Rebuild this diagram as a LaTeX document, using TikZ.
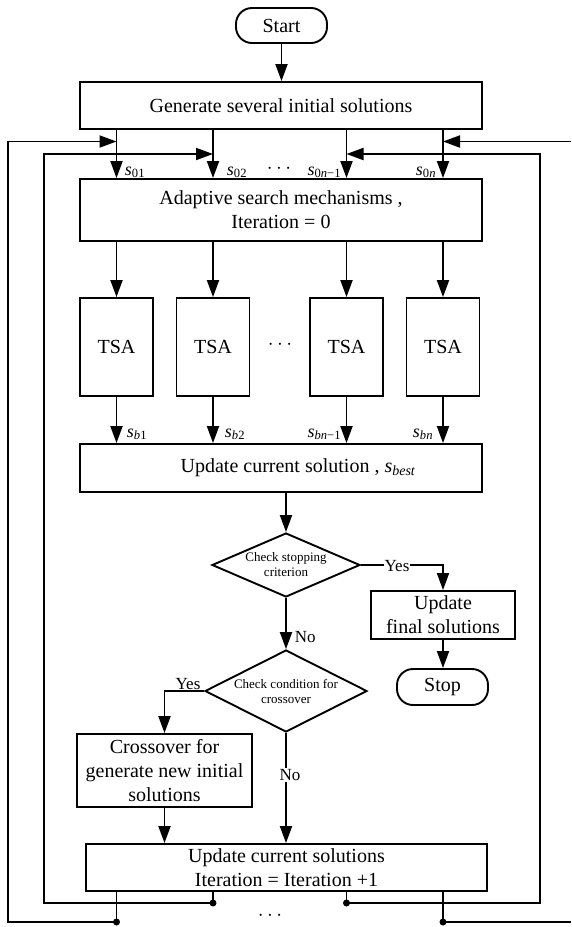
\documentclass[tikz,border=0pt]{standalone}
\usepackage{fontspec}
\setmainfont{Liberation Serif}
\usetikzlibrary{arrows.meta,shapes.geometric}
\newcommand\mainsz{\fontsize{20}{24}\selectfont}
\newcommand\lblsz{\fontsize{18}{20}\selectfont}
\newcommand\dotsz{\fontsize{22}{24}\selectfont}
\newcommand\yesnosz{\fontsize{17}{19}\selectfont}
\newcommand\dsz{\fontsize{13}{15}\selectfont}
\begin{document}
\begin{tikzpicture}[x=1pt,y=-1pt,line width=1.9pt,
  box/.style={draw,rectangle,inner sep=2pt,align=center,font=\mainsz},
  term/.style={draw,rectangle,rounded corners=16pt,inner sep=2pt,font=\mainsz},
  decision/.style={draw,diamond,inner sep=0pt},
  dtext/.style={align=center,font=\dsz,inner sep=0pt},
  lbl/.style={font=\lblsz,inner sep=0pt},
  ellip/.style={font=\dotsz,inner sep=0pt},
  yn/.style={font=\yesnosz,inner sep=1pt},
  arr/.style={-{Triangle[length=17pt,width=12pt]}},
  dot/.style={fill=black}]
\useasboundingbox (0,0) rectangle (571,927);

% main column of boxes
\node[term,minimum width=91pt,minimum height=35pt] (start) at (281.5,25.5) {Start};
\node[box,minimum width=402pt,minimum height=47pt] (gen) at (281,105.5) {Generate several initial solutions};
\node[box,minimum width=402pt,minimum height=62pt] (adapt) at (281,210) {Adaptive search mechanisms ,\\Iteration = 0};
\node[box,minimum width=73pt,minimum height=98pt] (tsa1) at (116.5,347) {TSA};
\node[box,minimum width=73pt,minimum height=98pt] (tsa2) at (213,347) {TSA};
\node[box,minimum width=73pt,minimum height=98pt] (tsa3) at (346.5,347) {TSA};
\node[box,minimum width=73pt,minimum height=98pt] (tsa4) at (443,347) {TSA};
\node[box,minimum width=402pt,minimum height=48pt] (upd) at (281,468)
  {\hspace*{34pt}Update current solution , {\itshape s}\textsubscript{\itshape best}};

% decisions
\node[decision,minimum width=148pt,minimum height=64pt] (d1) at (286,565) {};
\node[dtext] (d1t) at (d1.center) {Check stopping\\criterion};
\node[decision,minimum width=162pt,minimum height=82pt] (d2) at (286,691) {};
\node[dtext] (d2t) at (d2.center) {Check condition for\\crossover};

\node[box,minimum width=144pt,minimum height=48pt] (fin) at (443,615) {Update\\final solutions};
\node[term,minimum width=91pt,minimum height=36pt] (stop) at (442.5,687) {Stop};
\node[box,minimum width=175pt,minimum height=73pt] (cross) at (164.5,770.5)
  {Crossover for\\generate new initial\\solutions};
\node[box,minimum width=401pt,minimum height=47pt] (upd2) at (286.5,867.5)
  {Update current solutions\\Iteration = Iteration +1};

% feedback loop corners
\coordinate (olb) at (8,922);
\coordinate (olt) at (8,141.5);
\coordinate (ilb) at (44,903);
\coordinate (ilt) at (44,154);
\coordinate (irb) at (540,903);
\coordinate (irt) at (540,154);
\coordinate (orb) at (571,922);
\coordinate (ort) at (571,141.5);

% forward flow
\draw[arr] (start.south) -- (start.south |- gen.north);
\foreach \i in {1,...,4}{
  \draw[arr] (gen.south -| tsa\i) -- (adapt.north -| tsa\i);
  \draw[arr] (adapt.south -| tsa\i) -- (tsa\i.north);
  \draw[arr] (tsa\i.south) -- (tsa\i.south |- upd.north);
}
\draw[arr] (upd.south -| d1) -- (d1.north);
\draw[arr] (d1.east) -| (fin.north);
\draw[arr] (fin.south) -- (fin.south |- stop.north);
\draw[arr] (d1.south) -- (d2.north);
\draw[arr] (d2.west) -| (cross.north);
\draw[arr] (d2.south) -- (d2.south |- upd2.north);
\draw[arr] (cross.south) -- (cross.south |- upd2.north);

% feedback loops
\draw[arr] (upd2.south -| tsa1) -- (tsa1 |- olb) -- (olb) -- (olt) -- (olt -| tsa1);
\draw[arr] (upd2.south -| tsa2) -- (tsa2 |- ilb) -- (ilb) -- (ilt) -- (ilt -| tsa2);
\draw[arr] (upd2.south -| tsa3) -- (tsa3 |- irb) -- (irb) -- (irt) -- (irt -| tsa3);
\draw (upd2.south -| tsa4) -- (tsa4 |- orb) -- (orb);
\draw[arr] (ort) -- (ort -| tsa4);
\fill[dot] (tsa1 |- olb) circle (3.5pt);
\fill[dot] (tsa2 |- ilb) circle (3.5pt);
\fill[dot] (tsa3 |- irb) circle (3.5pt);
\fill[dot] (tsa4 |- orb) circle (3.5pt);

% branch labels
\node[yn,fill=white] (yes1) at (397,566) {Yes};
\node[yn,anchor=west] (no1) at (293,637) {No};
\node[yn,anchor=base] (yes2) at (188,689) {Yes};
\node[yn,fill=white] (no2) at (290,775) {No};

% solution labels
\node[lbl,anchor=base west] (s01) at (124,175) {{\itshape s}\textsubscript{01}};
\node[lbl,anchor=base west] (s02) at (226,175) {{\itshape s}\textsubscript{02}};
\node[lbl,anchor=base east] (s0m) at (342,175) {{\itshape s}\textsubscript{0{\itshape n}−1}};
\node[lbl,anchor=base east] (s0n) at (437,175) {{\itshape s}\textsubscript{0{\itshape n}}};
\node[ellip,anchor=base] (dtop) at (279,173) {$\cdots$};
\node[ellip,anchor=base] (dmid) at (280,349) {$\cdots$};
\node[ellip,anchor=base] (dbot) at (270,920) {$\cdots$};
\node[lbl,anchor=base west] (sb1) at (126,437) {{\itshape s}\textsubscript{{\itshape b}1}};
\node[lbl,anchor=base west] (sb2) at (224,437) {{\itshape s}\textsubscript{{\itshape b}2}};
\node[lbl,anchor=base east] (sbm) at (342,437) {{\itshape s}\textsubscript{{\itshape bn}−1}};
\node[lbl,anchor=base east] (sbn) at (434,437) {{\itshape s}\textsubscript{{\itshape bn}}};
\end{tikzpicture}
\end{document}
